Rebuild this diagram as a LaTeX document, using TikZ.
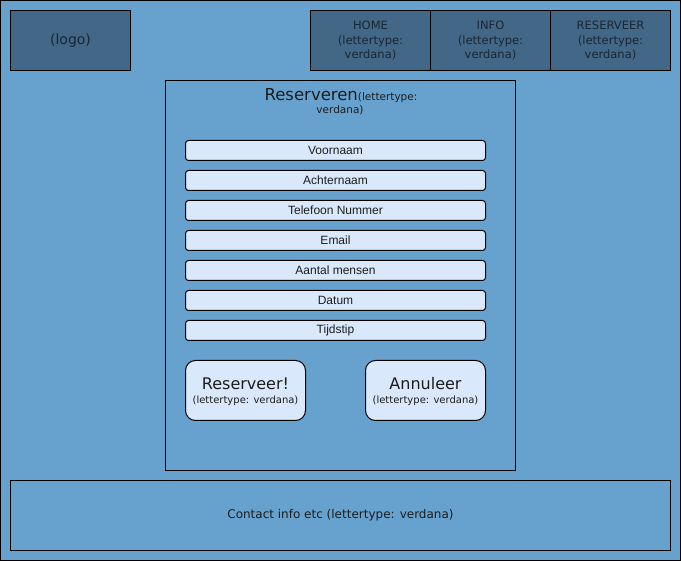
\documentclass[tikz,border=0pt]{standalone}
\usepackage{fontspec}
\setmainfont{DejaVu Sans}
\newfontfamily\arialfont{Liberation Sans}
\definecolor{pagebg}{HTML}{67A2CF}
\definecolor{darkbox}{HTML}{436786}
\definecolor{fieldbg}{HTML}{DAE8FC}
\definecolor{txt}{HTML}{1C1C1C}
\definecolor{navtxt}{HTML}{1A2633}
\tikzset{
  frame/.style={draw=black, line width=1pt, outer sep=0pt},
  darkcell/.style={frame, fill=darkbox, minimum width=120pt, minimum height=60pt, inner sep=0pt, text=navtxt, align=center, font=\fontsize{11.5}{14.5}\selectfont},
  field/.style={draw=black, line width=1pt, fill=fieldbg, rounded corners=3pt, minimum width=300pt, minimum height=20pt, inner sep=0pt, text=txt, font=\arialfont\fontsize{12}{14}\selectfont},
  btn/.style={draw=black, line width=1pt, fill=fieldbg, rounded corners=10pt, minimum width=120pt, minimum height=60pt, inner sep=0pt},
  bigtxt/.style={text=txt, inner sep=0pt, font=\fontsize{16}{18}\selectfont},
  smalltxt/.style={text=txt, inner sep=0pt, font=\fontsize{10}{12}\selectfont},
}
\begin{document}
\begin{tikzpicture}[x=1pt, y=-1pt]
\useasboundingbox (0,0) rectangle (681,561);
% page
\path[frame, fill=pagebg] (0.5,0.5) rectangle (680.5,560.5);
% header
\node[darkcell, anchor=north west] (logo) at (10.5,10.5) {\fontsize{14}{16}\selectfont (logo)};
\node[darkcell, anchor=north west] (home) at (310.5,10.5) {HOME\\(lettertype:\\verdana)};
\node[darkcell, anchor=north west] (info) at (430.5,10.5) {INFO\\(lettertype:\\verdana)};
\node[darkcell, anchor=north west] (res) at (550.5,10.5) {RESERVEER\\(lettertype:\\verdana)};
% main panel
\path[frame] (165.5,80.5) rectangle (515.5,470.5);
\node[inner sep=0pt, anchor=base, text=txt] (title) at (341,101)
  {{\fontsize{16.5}{18}\selectfont Reserveren}{\fontsize{10.5}{12}\selectfont(lettertype:}};
\node[inner sep=0pt, anchor=base, text=txt, font=\fontsize{10.5}{12}\selectfont] (title2) at (340,114) {verdana)};
% fields
\node[field] (f1) at (335.5,150.5) {Voornaam};
\node[field] (f2) at (335.5,180.5) {Achternaam};
\node[field] (f3) at (335.5,210.5) {Telefoon Nummer};
\node[field] (f4) at (335.5,240.5) {Email};
\node[field] (f5) at (335.5,270.5) {Aantal mensen};
\node[field] (f6) at (335.5,300.5) {Datum};
\node[field] (f7) at (335.5,330.5) {Tijdstip};
% buttons
\node[btn] (b1) at (245.5,390.5) {};
\node[bigtxt] (b1a) at (245.5,384) {Reserveer!};
\node[smalltxt] (b1b) at (245.5,401) {(lettertype: verdana)};
\node[btn] (b2) at (425.5,390.5) {};
\node[bigtxt] (b2a) at (425.5,384) {Annuleer};
\node[smalltxt] (b2b) at (425.5,401) {(lettertype: verdana)};
% footer
\node[frame, minimum width=660pt, minimum height=70pt, inner sep=0pt, anchor=north west, text=txt, font=\fontsize{12}{14}\selectfont] (footer) at (10.5,480.5) {Contact info etc (lettertype: verdana)};
\end{tikzpicture}
\end{document}
